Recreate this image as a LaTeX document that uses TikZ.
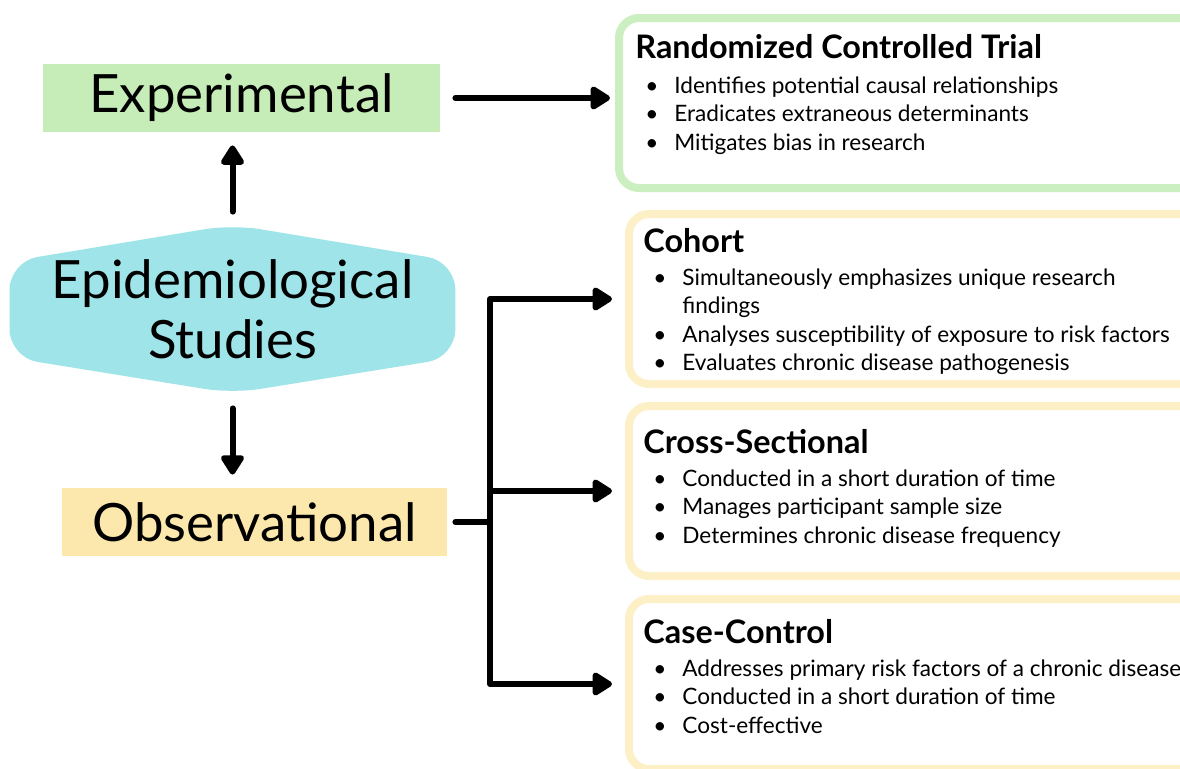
\documentclass[tikz,border=0pt]{standalone}
\usepackage{fontspec}
\setmainfont{Lato}
\usetikzlibrary{arrows.meta,backgrounds}
\definecolor{expgreen}{HTML}{C6EDB8}
\definecolor{rctgreen}{HTML}{CBEFC0}
\definecolor{obsyellow}{HTML}{FCE8AC}
\definecolor{boxyellow}{HTML}{FDF0C6}
\definecolor{epicyan}{HTML}{9EE4E9}
\newcommand{\bitem}{\makebox[19.5pt][l]{\hspace{5pt}\textbullet}}
\newcommand{\btitle}[1]{{\fontsize{16.2}{17}\selectfont\bfseries #1}}

\begin{document}
\begin{tikzpicture}[x=0.5pt, y=-0.5pt,
	big/.style={font=\fontsize{26.4}{30}\selectfont, inner sep=0, minimum height=34pt},
	arr/.style={line width=3pt, line cap=round, -{Triangle[length=11pt,width=13pt,round]}},
	rbox/.style={draw=#1, line width=4pt, rounded corners=10pt, fill=white, anchor=north west, minimum width=300pt, minimum height=85pt},
	info/.style={anchor=north west, inner sep=0, align=left, font=\fontsize{11.3}{14.1}\selectfont}]
	\useasboundingbox (0,0) rectangle (1180,768);
	\clip (0,0) rectangle (1180,768);

	% left column
	\node[big, fill=expgreen, minimum width=198.5pt] (exp) at (241.5,98) {Experimental};
	\node[big, fill=obsyellow, minimum width=192.5pt] (obs) at (254.5,522) {Observational};
	\node[big, align=center, minimum width=222.5pt, minimum height=84pt] (epi) at (232.5,309) {Epidemiological\\Studies};
	\begin{scope}[on background layer]
		\fill[white] (0,0) rectangle (1180,768);
		\fill[epicyan, rounded corners=14pt] (epi.west) -- ([yshift=-18.5pt]epi.north west) -- (epi.north) -- ([yshift=-18.5pt]epi.north east)
			-- ([yshift=18pt]epi.south east) -- (epi.south) -- ([yshift=18pt]epi.south west) -- cycle;
	\end{scope}

	% right boxes
	\node[rbox=rctgreen] (rct) at (615,14) {};
	\node[rbox=boxyellow] (coh) at (625,210) {};
	\node[rbox=boxyellow] (cross) at (625,402) {};
	\node[rbox=boxyellow] (case) at (625,595) {};

	\node[info] (rcttxt) at ([shift={(20,20)}]rct.north west) {\btitle{Randomized Controlled Trial}\\[3.5pt]
		\bitem Identifies potential causal relationships\\
		\bitem Eradicates extraneous determinants\\
		\bitem Mitigates bias in research};
	\node[info] (cohtxt) at ([shift={(18,18)}]coh.north west) {\btitle{Cohort}\\[2.5pt]
		\bitem Simultaneously emphasizes unique research\\
		\hspace*{19.5pt}findings\\
		\bitem Analyses susceptibility of exposure to risk factors\\
		\bitem Evaluates chronic disease pathogenesis};
	\node[info] (crosstxt) at ([shift={(18,27)}]cross.north west) {\btitle{Cross-Sectional}\\[2.5pt]
		\bitem Conducted in a short duration of time\\
		\bitem Manages participant sample size\\
		\bitem Determines chronic disease frequency};
	\node[info] (casetxt) at ([shift={(18,24)}]case.north west) {\btitle{Case-Control}\\[2.5pt]
		\bitem Addresses primary risk factors of a chronic disease\\
		\bitem Conducted in a short duration of time\\
		\bitem Cost-effective};

	% connectors
	\coordinate (fork) at (490,522);
	\draw[arr, shorten <=6.5pt] (epi.north) -- ([yshift=-6.5pt]epi.north |- exp.south);
	\draw[arr, shorten <=7.5pt] (epi.south) -- ([yshift=6.5pt]epi.south |- obs.north);
	\draw[arr, shorten <=7.5pt, shorten >=2.5pt] (exp.east) -- (exp.east -| rct.west);
	\draw[line width=3pt, line cap=round, shorten <=4pt] (obs.east) -- (fork);
	\foreach \b in {coh, cross, case}
		\draw[arr, line join=round, shorten >=6.5pt] (fork) |- (\b.west);
\end{tikzpicture}
\end{document}
